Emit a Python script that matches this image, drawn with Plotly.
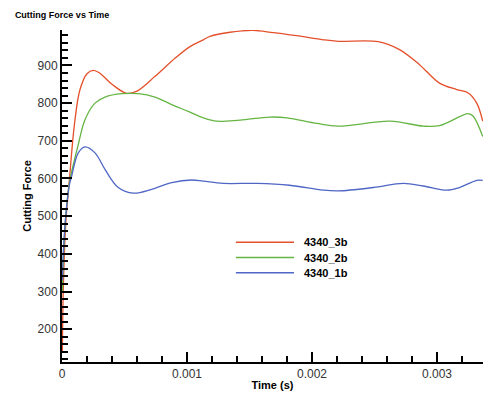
import plotly.graph_objects as go

# Data
t_3b = [0.000003, 0.00001, 0.00003, 0.00006, 0.0001, 0.000144, 0.0002, 0.00025, 0.0003, 0.0004,
        0.000517, 0.0006, 0.000744, 0.000904, 0.001024, 0.00113, 0.001184, 0.001344, 0.00153,
        0.00169, 0.001877, 0.00209, 0.00221, 0.00253, 0.0027, 0.00286, 0.00302, 0.003158,
        0.00325, 0.003318, 0.003366]
f_3b = [140, 300, 480, 600, 745, 836, 878, 887, 880, 850,
        826, 832, 871, 919, 950, 968, 977, 988, 993,
        987, 979, 968, 964, 963, 942, 902, 853, 836,
        827, 800, 752]

t_2b = [0.000003, 0.00001, 0.00003, 0.00006, 0.0001, 0.00013, 0.000184, 0.000264, 0.000344,
        0.000478, 0.00061, 0.000744, 0.000878, 0.00101, 0.00113, 0.001237, 0.001424, 0.001664,
        0.0018, 0.00204, 0.00221, 0.002624, 0.00289, 0.00302, 0.00325, 0.00329, 0.003366]
f_2b = [300, 380, 500, 590, 650, 690, 756, 800, 816,
        825, 825, 816, 796, 778, 761, 752, 755, 763,
        761, 746, 739, 752, 739, 740, 772, 765, 711]

t_1b = [0.000003, 0.00001, 0.00003, 0.00006, 0.000077, 0.00013, 0.000184, 0.000264, 0.000344,
        0.00045, 0.00057, 0.000717, 0.000878, 0.001037, 0.00113, 0.00129, 0.00156, 0.00182,
        0.00209, 0.00221, 0.00249, 0.00273, 0.00289, 0.003078, 0.00318, 0.003318, 0.003366]
f_1b = [330, 400, 500, 585, 606, 668, 684, 668, 624,
        576, 561, 571, 589, 596, 593, 587, 587, 582,
        569, 567, 576, 587, 580, 569, 576, 595, 595]

series_names = ["4340_3b", "4340_2b", "4340_1b"]
series_colors = ["#e4502c", "#66b544", "#4f66c4"]

x_tickvals = [0, 0.001, 0.002, 0.003]
x_ticktext = ["0", "0.001", "0.002", "0.003"]
y_tickvals = [200, 300, 400, 500, 600, 700, 800, 900]

FONT = "Liberation Sans, Arial"

fig = go.Figure()
for t, f, name, color in zip([t_3b, t_2b, t_1b], [f_3b, f_2b, f_1b], series_names, series_colors):
    fig.add_trace(go.Scatter(x=t, y=f, mode="lines", name=name, showlegend=False,
                             line=dict(color=color, width=1.3, shape="spline", smoothing=1.0)))

# Legend drawn as key lines plus labels (paper coordinates)
leg_x0, leg_x1, leg_y0, leg_dy = 0.413, 0.551, 0.3605, 0.0458
for i, (name, color) in enumerate(zip(series_names, series_colors)):
    yy = leg_y0 - i * leg_dy
    fig.add_shape(type="line", xref="paper", yref="paper", x0=leg_x0, x1=leg_x1, y0=yy, y1=yy,
                  line=dict(color=color, width=1.6))
    fig.add_annotation(xref="paper", yref="paper", x=0.570, y=yy, xanchor="left", yanchor="middle",
                       text="<b>%s</b>" % name, showarrow=False,
                       font=dict(family=FONT, size=11, color="black"))

axis_common = dict(
    showline=True, linecolor="black", linewidth=2, mirror=False, automargin=False,
    ticks="inside", ticklen=10, tickwidth=2, tickcolor="black",
    showgrid=False, zeroline=False,
    tickfont=dict(family=FONT, size=12, color="#333333"),
)

fig.update_xaxes(
    range=[0, 0.003368], tickvals=x_tickvals, ticktext=x_ticktext,
    minor=dict(ticks="inside", ticklen=6, tickwidth=1.5, tickcolor="black", dtick=0.0002, tick0=0),
    title=dict(text="<b>Time (s)</b>", font=dict(family=FONT, size=11, color="black"), standoff=1),
    **axis_common,
)
fig.update_yaxes(
    range=[113, 994], tickvals=y_tickvals,
    minor=dict(ticks="inside", ticklen=6, tickwidth=1.5, tickcolor="black", dtick=20, tick0=0),
    title=dict(text="<b>Cutting Force</b>", font=dict(family=FONT, size=11, color="black"), standoff=4),
    **axis_common,
)

# The page body has an 8px margin, so the figure is 492x386 and offset accordingly
fig.update_layout(
    width=492, height=386,
    margin=dict(l=54, r=17, t=22, b=32, autoexpand=False),
    paper_bgcolor="white", plot_bgcolor="white",
    title=dict(text="<b>Cutting Force vs Time</b>", x=0.014, xanchor="left", y=0.982, yanchor="middle",
               font=dict(family=FONT, size=9, color="black")),
    showlegend=False,
)

fig.write_html("out.html")
